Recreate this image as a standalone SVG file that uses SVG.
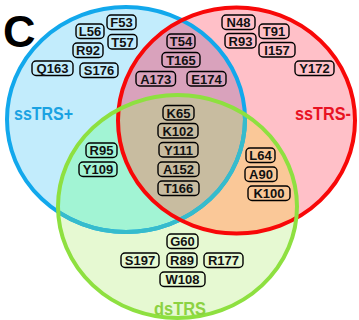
<svg xmlns="http://www.w3.org/2000/svg" width="359" height="320" viewBox="0 0 359 320">
<defs>
<clipPath id="cBlue"><ellipse cx="126" cy="119.5" rx="119" ry="112.5"/></clipPath>
<clipPath id="cRed"><ellipse cx="236.5" cy="120.5" rx="118.5" ry="113"/></clipPath>
<clipPath id="cGreen"><ellipse cx="177.5" cy="206.5" rx="119.5" ry="111.5"/></clipPath>
<style>
.box{fill:none;stroke:#000;stroke-width:1.4}
.lbl{font-family:"Liberation Sans",Arial,sans-serif;font-size:13px;font-weight:bold;fill:#111;text-anchor:middle}
.set{font-family:"Liberation Sans",Arial,sans-serif;font-size:18px;font-weight:bold;text-anchor:middle}
</style>
</defs>
<rect width="359" height="320" fill="#fff"/>
<g id="regions">
<ellipse cx="126" cy="119.5" rx="119" ry="112.5" fill="#c2ecfc"/>
<ellipse cx="236.5" cy="120.5" rx="118.5" ry="113" fill="#ffc0c8"/>
<ellipse cx="177.5" cy="206.5" rx="119.5" ry="111.5" fill="#e6f9d2"/>
<ellipse cx="236.5" cy="120.5" rx="118.5" ry="113" fill="#d9a2bc" clip-path="url(#cBlue)"/>
<ellipse cx="177.5" cy="206.5" rx="119.5" ry="111.5" fill="#a2f4d4" clip-path="url(#cBlue)"/>
<ellipse cx="177.5" cy="206.5" rx="119.5" ry="111.5" fill="#fac898" clip-path="url(#cRed)"/>
<g clip-path="url(#cBlue)"><ellipse cx="177.5" cy="206.5" rx="119.5" ry="111.5" fill="#c8bca0" clip-path="url(#cRed)"/></g>
</g>
<g id="outlines" fill="none" stroke-width="4">
<ellipse cx="126" cy="119.5" rx="119" ry="112.5" stroke="#12a8ec"/>
<ellipse cx="126" cy="119.5" rx="119" ry="112.5" stroke="#36bccc" clip-path="url(#cGreen)"/>
<ellipse cx="236.5" cy="120.5" rx="118.5" ry="113" stroke="#f80808"/>
<ellipse cx="177.5" cy="206.5" rx="119.5" ry="111.5" stroke="#8ee040"/>
</g>
<text x="3" y="47" font-family="Liberation Sans,Arial,sans-serif" font-size="45" font-weight="bold" fill="#000">C</text>
<g id="set-labels">
<text class="set" x="43.5" y="120" fill="#1aa2e2" textLength="59" lengthAdjust="spacingAndGlyphs">ssTRS+</text>
<text class="set" x="323" y="120" fill="#e81222" textLength="56" lengthAdjust="spacingAndGlyphs">ssTRS-</text>
<text class="set" x="180" y="315" fill="#8cd242" font-size="20" textLength="52" lengthAdjust="spacingAndGlyphs">dsTRS</text>
</g>
<g id="nodes">
<g id="F53"><rect class="box" x="107" y="15" width="29" height="14.5" rx="4"/><text class="lbl" x="121.5" y="27">F53</text></g>
<g id="L56"><rect class="box" x="76" y="24" width="28" height="14.5" rx="4"/><text class="lbl" x="90" y="36">L56</text></g>
<g id="T57"><rect class="box" x="108" y="34.5" width="29" height="14.5" rx="4"/><text class="lbl" x="122.5" y="46.5">T57</text></g>
<g id="R92"><rect class="box" x="73" y="43" width="30" height="14.5" rx="4"/><text class="lbl" x="88" y="55">R92</text></g>
<g id="Q163"><rect class="box" x="32" y="61" width="41" height="14.5" rx="4"/><text class="lbl" x="52.5" y="73">Q163</text></g>
<g id="S176"><rect class="box" x="80" y="63" width="38" height="14.5" rx="4"/><text class="lbl" x="99" y="75">S176</text></g>
<g id="T54"><rect class="box" x="167" y="34" width="28" height="14.5" rx="4"/><text class="lbl" x="181" y="46">T54</text></g>
<g id="T165"><rect class="box" x="162" y="52.5" width="38" height="14.5" rx="4"/><text class="lbl" x="181" y="64.5">T165</text></g>
<g id="A173"><rect class="box" x="136" y="71.5" width="39.5" height="14.5" rx="4"/><text class="lbl" x="155.75" y="83.5">A173</text></g>
<g id="E174"><rect class="box" x="187" y="71.5" width="39" height="14.5" rx="4"/><text class="lbl" x="206.5" y="83.5">E174</text></g>
<g id="N48"><rect class="box" x="222" y="15" width="33" height="14.5" rx="4"/><text class="lbl" x="238.5" y="27">N48</text></g>
<g id="R93"><rect class="box" x="225" y="33.5" width="31" height="14.5" rx="4"/><text class="lbl" x="240.5" y="45.5">R93</text></g>
<g id="T91"><rect class="box" x="259" y="24" width="30" height="14.5" rx="4"/><text class="lbl" x="274" y="36">T91</text></g>
<g id="I157"><rect class="box" x="259" y="42.5" width="36" height="14.5" rx="4"/><text class="lbl" x="277" y="54.5">I157</text></g>
<g id="Y172"><rect class="box" x="295" y="61" width="39" height="14.5" rx="4"/><text class="lbl" x="314.5" y="73">Y172</text></g>
<g id="K65"><rect class="box" x="163" y="105.5" width="31" height="14.5" rx="4"/><text class="lbl" x="178.5" y="117.5">K65</text></g>
<g id="K102"><rect class="box" x="158" y="123.5" width="40" height="14.5" rx="4"/><text class="lbl" x="178" y="135.5">K102</text></g>
<g id="Y111"><rect class="box" x="159" y="142.5" width="39" height="14.5" rx="4"/><text class="lbl" x="178.5" y="154.5">Y111</text></g>
<g id="A152"><rect class="box" x="158" y="162" width="41" height="14.5" rx="4"/><text class="lbl" x="178.5" y="174">A152</text></g>
<g id="T166"><rect class="box" x="158" y="181" width="41" height="14.5" rx="4"/><text class="lbl" x="178.5" y="193">T166</text></g>
<g id="R95"><rect class="box" x="86" y="143" width="31" height="14.5" rx="4"/><text class="lbl" x="101.5" y="155">R95</text></g>
<g id="Y109"><rect class="box" x="79" y="162" width="38" height="14.5" rx="4"/><text class="lbl" x="98" y="174">Y109</text></g>
<g id="L64"><rect class="box" x="246" y="148" width="29" height="14.5" rx="4"/><text class="lbl" x="260.5" y="160">L64</text></g>
<g id="A90"><rect class="box" x="245" y="167" width="32" height="14.5" rx="4"/><text class="lbl" x="261" y="179">A90</text></g>
<g id="K100"><rect class="box" x="248" y="186" width="42" height="14.5" rx="4"/><text class="lbl" x="269" y="198">K100</text></g>
<g id="G60"><rect class="box" x="167" y="234" width="31" height="14.5" rx="4"/><text class="lbl" x="182.5" y="246">G60</text></g>
<g id="S197"><rect class="box" x="121" y="253" width="38" height="14.5" rx="4"/><text class="lbl" x="140" y="265">S197</text></g>
<g id="R89"><rect class="box" x="167" y="253" width="30" height="14.5" rx="4"/><text class="lbl" x="182" y="265">R89</text></g>
<g id="R177"><rect class="box" x="204" y="253" width="39" height="14.5" rx="4"/><text class="lbl" x="223.5" y="265">R177</text></g>
<g id="W108"><rect class="box" x="160" y="272" width="45" height="14.5" rx="4"/><text class="lbl" x="182.5" y="284">W108</text></g>
</g>
</svg>
